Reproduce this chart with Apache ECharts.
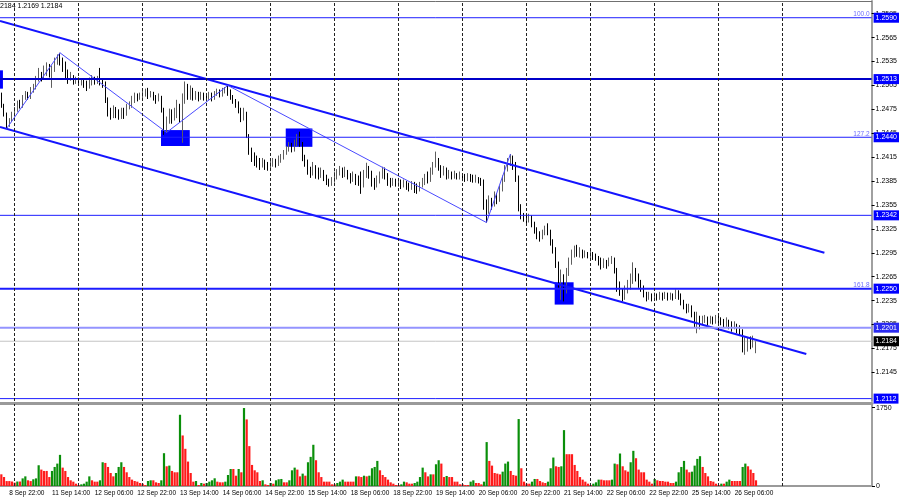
<!DOCTYPE html>
<html><head><meta charset="utf-8">
<script src="https://cdn.jsdelivr.net/npm/echarts@6/dist/echarts.min.js"></script>
<style>html,body{margin:0;padding:0;background:#fff}#c{width:900px;height:500px}</style>
</head><body><div id="c"></div>
<script>
// ---- data (GBPUSD H1, 8 Sep 19:00 .. 26 Sep 14:00) ----
const firstOpen = 1.2491;
const closes = [
1.2480,1.2468,1.2457,1.2463,1.2470,1.2475,1.2482,1.2480,1.2490,1.2493,1.2491,1.2500,1.2502,1.2512,1.2517,1.2515,1.2522,1.2527,1.2517,1.2525,
1.2534,1.2540,1.2535,1.2527,1.2520,1.2515,1.2517,1.2511,1.2512,1.2508,1.2510,1.2506,1.2503,1.2507,1.2513,1.2510,1.2512,1.2508,1.2507,1.2487,
1.2472,1.2468,1.2475,1.2471,1.2467,1.2472,1.2470,1.2477,1.2480,1.2487,1.2491,1.2488,1.2492,1.2493,1.2496,1.2492,1.2495,1.2490,1.2487,1.2490,
1.2475,1.2452,1.2462,1.2471,1.2462,1.2468,1.2477,1.2466,1.2487,1.2502,1.2493,1.2497,1.2491,1.2493,1.2490,1.2492,1.2491,1.2490,1.2492,1.2488,
1.2495,1.2497,1.2493,1.2498,1.2501,1.2497,1.2491,1.2486,1.2482,1.2475,1.2464,1.2471,1.2443,1.2424,1.2416,1.2412,1.2408,1.2404,1.2409,1.2405,
1.2402,1.2405,1.2409,1.2407,1.2412,1.2414,1.2421,1.2424,1.2429,1.2424,1.2433,1.2439,1.2432,1.2414,1.2408,1.2399,1.2395,1.2402,1.2397,1.2392,
1.2397,1.2390,1.2384,1.2382,1.2385,1.2389,1.2394,1.2399,1.2394,1.2398,1.2392,1.2387,1.2392,1.2388,1.2384,1.2380,1.2392,1.2402,1.2395,1.2387,
1.2379,1.2385,1.2392,1.2399,1.2393,1.2387,1.2382,1.2385,1.2383,1.2384,1.2380,1.2383,1.2379,1.2377,1.2380,1.2378,1.2374,1.2379,1.2384,1.2389,
1.2387,1.2397,1.2404,1.2409,1.2402,1.2397,1.2399,1.2392,1.2394,1.2392,1.2393,1.2390,1.2392,1.2390,1.2388,1.2392,1.2389,1.2387,1.2388,1.2385,
1.2383,1.2355,1.2347,1.2362,1.2355,1.2367,1.2362,1.2374,1.2387,1.2399,1.2408,1.2412,1.2405,1.2389,1.2355,1.2342,1.2339,1.2337,1.2339,1.2332,
1.2324,1.2318,1.2314,1.2319,1.2327,1.2322,1.2309,1.2299,1.2280,1.2261,1.2264,1.2249,1.2271,1.2284,1.2293,1.2299,1.2294,1.2296,1.2291,1.2294,
1.2291,1.2293,1.2290,1.2289,1.2284,1.2279,1.2283,1.2280,1.2285,1.2288,1.2274,1.2255,1.2246,1.2241,1.2249,1.2255,1.2261,1.2274,1.2266,1.2259,
1.2251,1.2244,1.2239,1.2241,1.2239,1.2241,1.2239,1.2241,1.2240,1.2242,1.2239,1.2241,1.2240,1.2245,1.2241,1.2234,1.2229,1.2224,1.2226,1.2219,
1.2209,1.2214,1.2209,1.2211,1.2214,1.2209,1.2212,1.2210,1.2212,1.2211,1.2209,1.2206,1.2209,1.2204,1.2201,1.2205,1.2199,1.2196,1.2174,1.2176,
1.2184,1.2181,1.2181,1.2184];
const highs = [
1.2496,1.2482,1.2471,1.2464,1.2472,1.2478,1.2486,1.2487,1.2493,1.2498,1.2497,1.2503,1.2507,1.2517,1.2527,1.2522,1.2530,1.2534,1.2532,1.2530,
1.2540,1.2544,1.2546,1.2540,1.2535,1.2525,1.2522,1.2518,1.2516,1.2515,1.2513,1.2512,1.2511,1.2515,1.2518,1.2516,1.2517,1.2527,1.2512,1.2510,
1.2490,1.2477,1.2480,1.2478,1.2475,1.2477,1.2477,1.2482,1.2485,1.2492,1.2496,1.2495,1.2496,1.2500,1.2501,1.2502,1.2498,1.2497,1.2493,1.2495,
1.2492,1.2477,1.2466,1.2476,1.2475,1.2477,1.2487,1.2482,1.2495,1.2510,1.2507,1.2505,1.2502,1.2498,1.2497,1.2497,1.2496,1.2495,1.2497,1.2496,
1.2498,1.2501,1.2500,1.2502,1.2503,1.2505,1.2500,1.2493,1.2488,1.2485,1.2477,1.2477,1.2472,1.2444,1.2427,1.2421,1.2417,1.2414,1.2414,1.2412,
1.2409,1.2412,1.2414,1.2413,1.2417,1.2419,1.2424,1.2429,1.2434,1.2433,1.2437,1.2444,1.2447,1.2434,1.2418,1.2412,1.2403,1.2409,1.2405,1.2402,
1.2402,1.2399,1.2393,1.2388,1.2390,1.2397,1.2400,1.2404,1.2402,1.2403,1.2399,1.2395,1.2397,1.2394,1.2392,1.2397,1.2399,1.2408,1.2404,1.2398,
1.2389,1.2392,1.2397,1.2403,1.2402,1.2395,1.2389,1.2389,1.2388,1.2389,1.2387,1.2387,1.2385,1.2383,1.2385,1.2384,1.2382,1.2384,1.2389,1.2394,
1.2397,1.2402,1.2409,1.2422,1.2414,1.2405,1.2404,1.2402,1.2399,1.2397,1.2398,1.2395,1.2397,1.2395,1.2394,1.2395,1.2394,1.2393,1.2393,1.2390,
1.2389,1.2387,1.2362,1.2367,1.2364,1.2372,1.2370,1.2379,1.2392,1.2405,1.2414,1.2419,1.2417,1.2409,1.2392,1.2356,1.2345,1.2344,1.2344,1.2342,
1.2334,1.2327,1.2322,1.2324,1.2329,1.2332,1.2324,1.2312,1.2302,1.2284,1.2274,1.2268,1.2276,1.2289,1.2299,1.2304,1.2305,1.2302,1.2299,1.2298,
1.2296,1.2298,1.2296,1.2294,1.2291,1.2289,1.2288,1.2286,1.2289,1.2291,1.2289,1.2276,1.2259,1.2250,1.2254,1.2261,1.2269,1.2283,1.2276,1.2269,
1.2261,1.2254,1.2246,1.2246,1.2244,1.2245,1.2244,1.2246,1.2245,1.2246,1.2245,1.2245,1.2244,1.2249,1.2248,1.2244,1.2236,1.2231,1.2231,1.2229,
1.2221,1.2221,1.2216,1.2216,1.2217,1.2215,1.2216,1.2215,1.2217,1.2216,1.2214,1.2212,1.2214,1.2211,1.2209,1.2209,1.2206,1.2204,1.2199,1.2189,
1.2189,1.2190,1.2191,1.2184];
const lows = [
1.2477,1.2466,1.2451,1.2453,1.2459,1.2466,1.2472,1.2476,1.2477,1.2487,1.2487,1.2488,1.2496,1.2500,1.2510,1.2510,1.2512,1.2517,1.2515,1.2502,
1.2522,1.2531,1.2530,1.2522,1.2513,1.2507,1.2511,1.2506,1.2507,1.2505,1.2505,1.2502,1.2498,1.2501,1.2505,1.2506,1.2507,1.2505,1.2502,1.2483,
1.2466,1.2462,1.2464,1.2464,1.2462,1.2463,1.2463,1.2467,1.2475,1.2477,1.2483,1.2485,1.2487,1.2488,1.2491,1.2488,1.2490,1.2486,1.2482,1.2485,
1.2471,1.2443,1.2446,1.2457,1.2457,1.2461,1.2464,1.2459,1.2433,1.2482,1.2487,1.2487,1.2486,1.2487,1.2485,1.2487,1.2486,1.2485,1.2487,1.2485,
1.2487,1.2492,1.2490,1.2491,1.2495,1.2492,1.2487,1.2482,1.2477,1.2470,1.2459,1.2461,1.2439,1.2418,1.2409,1.2404,1.2402,1.2399,1.2402,1.2399,
1.2398,1.2400,1.2403,1.2402,1.2404,1.2408,1.2412,1.2418,1.2422,1.2421,1.2422,1.2429,1.2428,1.2410,1.2403,1.2393,1.2389,1.2392,1.2388,1.2387,
1.2389,1.2385,1.2380,1.2378,1.2379,1.2383,1.2387,1.2392,1.2389,1.2390,1.2387,1.2382,1.2384,1.2380,1.2379,1.2369,1.2377,1.2389,1.2388,1.2378,
1.2374,1.2377,1.2382,1.2388,1.2387,1.2379,1.2377,1.2379,1.2378,1.2378,1.2375,1.2377,1.2374,1.2372,1.2374,1.2370,1.2369,1.2372,1.2377,1.2380,
1.2382,1.2384,1.2393,1.2402,1.2398,1.2389,1.2392,1.2387,1.2388,1.2387,1.2388,1.2387,1.2387,1.2385,1.2384,1.2385,1.2384,1.2383,1.2383,1.2382,
1.2379,1.2349,1.2333,1.2344,1.2349,1.2353,1.2356,1.2359,1.2372,1.2384,1.2397,1.2404,1.2399,1.2384,1.2347,1.2337,1.2334,1.2332,1.2333,1.2327,
1.2319,1.2312,1.2309,1.2312,1.2317,1.2317,1.2304,1.2294,1.2276,1.2251,1.2236,1.2234,1.2244,1.2266,1.2280,1.2289,1.2290,1.2289,1.2288,1.2289,
1.2288,1.2288,1.2286,1.2285,1.2279,1.2274,1.2276,1.2275,1.2278,1.2281,1.2269,1.2246,1.2241,1.2234,1.2236,1.2244,1.2249,1.2256,1.2259,1.2251,
1.2246,1.2239,1.2234,1.2236,1.2234,1.2236,1.2235,1.2236,1.2235,1.2237,1.2235,1.2236,1.2235,1.2237,1.2236,1.2229,1.2224,1.2219,1.2220,1.2214,
1.2201,1.2194,1.2199,1.2205,1.2207,1.2204,1.2206,1.2205,1.2206,1.2206,1.2204,1.2201,1.2202,1.2199,1.2196,1.2199,1.2194,1.2191,1.2170,1.2167,
1.2171,1.2174,1.2176,1.2169];
const volumes = [
261,200,110,110,100,75,100,100,170,215,127,110,150,170,463,366,336,336,200,336,
425,500,695,410,336,200,127,97,52,22,37,52,97,215,127,97,97,127,530,515,
425,290,215,290,425,530,425,306,200,142,112,97,67,52,22,112,127,127,82,67,
127,732,440,455,336,306,306,1590,1128,830,545,290,97,112,22,67,52,67,97,127,
172,97,82,82,97,246,380,380,230,380,306,1740,1486,890,470,350,306,112,127,37,
22,67,52,127,150,157,82,82,127,350,410,366,215,276,230,530,650,920,575,306,
200,97,97,97,37,37,67,97,142,97,97,97,97,215,215,200,230,215,230,396,
425,560,350,246,200,142,82,52,22,22,37,97,82,52,52,67,97,200,410,306,
215,260,260,485,575,500,200,224,200,200,97,97,37,37,22,22,97,127,67,67,
37,97,980,560,455,290,276,260,320,500,545,336,246,230,1494,396,97,52,52,97,
157,157,112,82,67,97,396,635,440,425,440,1247,710,710,710,470,336,200,142,97,
52,22,52,82,142,142,127,127,127,142,500,485,725,440,350,320,530,785,620,366,
306,306,142,97,52,157,127,112,112,97,97,67,67,97,306,425,560,366,306,320,
455,605,665,425,290,215,112,97,52,22,52,52,97,142,112,112,112,112,425,500,
440,366,290,127];
const priceTicks = [1.2595,1.2565,1.2535,1.2505,1.2475,1.2445,1.2415,1.2385,1.2355,1.2325,1.2295,1.2265,1.2235,1.2205,1.2175,1.2145];
const volumeTicks = [0, 1750];
const timeLabels = ['8 Sep 22:00','11 Sep 14:00','12 Sep 06:00','12 Sep 22:00','13 Sep 14:00','14 Sep 06:00','14 Sep 22:00','15 Sep 14:00','18 Sep 06:00','18 Sep 22:00','19 Sep 14:00','20 Sep 06:00','20 Sep 22:00','21 Sep 14:00','22 Sep 06:00','22 Sep 22:00','25 Sep 14:00','26 Sep 06:00'];
const timeLabelBars = [3,19,35,51,67,83,99,115,131,147,163,179,195,211,227,243,259,275];
const dayStartBars = [5,29,53,77,101,125,149,173,197,221,245,269,293];
const levels = [1.2590, 1.2513, 1.2440, 1.2342, 1.2250, 1.2201, 1.2112];
const fibLevels = [1.2590, 1.2440, 1.2250];
const fibTexts = ['100.0', '127.2', '161.8'];
const bidPrice = 1.2184;
const zigzag = [[2,1.2451],[22,1.2546],[62,1.2446],[85,1.2505],[182,1.2333],[191,1.2419]];
const upperChannel = [[-0.5,1.2586],[308.8,1.2295]];
const lowerChannel = [[-0.5,1.2453],[302,1.2168]];
const boxes = [[-0.5,0.6,1.2501,1.2524],[59.9,70.7,1.2429,1.2449],[106.7,116.7,1.2428,1.2451],[207.6,214.7,1.2230,1.2258]];
const headerText = '2184 1.2169 1.2184';
const slotCount = 327;

// ---- build ----
const opens = [firstOpen].concat(closes.slice(0, -1));
const candles = closes.map((c, i) => [i, opens[i], c, lows[i], highs[i]]);
const volData = volumes.map((v, i) => [i, v]);
const FONT = 'Liberation Sans';
const X0 = -0.5, X1 = slotCount - 0.5;

const levelStyle = [
  {color:'#1e1eff', width:1, tag:'#0000ff'},
  {color:'#0000c8', width:2, tag:'#0000ff'},
  {color:'#1e1eff', width:1, tag:'#0000ff'},
  {color:'#1e1eff', width:1, tag:'#0000ff'},
  {color:'#1c1cff', width:2, tag:'#0000ff'},
  {color:'#9494ff', width:2, tag:'#2a2af0'},
  {color:'#1e1eff', width:1, tag:'#0000ff'}
];
const tagLabel = (txt, bg) => ({show:true, position:'end', formatter:txt, backgroundColor:bg, color:'#fff',
  fontSize:7, fontFamily:FONT, padding:[2,2,1,2], distance:2});
const hidden = {color:'rgba(0,0,0,0)', width:1, type:'solid'};

// horizontal level lines as plain line series
const levelSeries = levels.map((v, k) => ({
  type:'line', xAxisIndex:0, yAxisIndex:0, data:[[X0, v], [X1, v]], symbol:'none', silent:true, z:4,
  lineStyle:{color:levelStyle[k].color, width:levelStyle[k].width}
}));
levelSeries.push({type:'line', xAxisIndex:0, yAxisIndex:0, data:[[X0, bidPrice], [X1, bidPrice]], symbol:'none', silent:true, z:2,
  lineStyle:{color:'#c4c4c4', width:1}});

// price tags and fib texts (labels only)
const tagMarks = levels.map((v, k) => ({yAxis:v, lineStyle:hidden, label:tagLabel(v.toFixed(4), levelStyle[k].tag)}));
tagMarks.push({yAxis:bidPrice, lineStyle:hidden, label:tagLabel(bidPrice.toFixed(4), '#000')});
fibLevels.forEach((v, k) => tagMarks.push({
  yAxis:v, lineStyle:hidden,
  label:{show:true, position:'insideEndTop', formatter:fibTexts[k], color:'#6b6bff', fontSize:6.5, fontFamily:FONT, distance:[2,0]}
}));

const gridMark = () => ({
  silent:true, symbol:['none','none'], label:{show:false}, precision:4,
  lineStyle:{color:'#222', width:1, type:[3,2]},
  data: dayStartBars.map(b => ({xAxis:b}))
});

const chart = echarts.init(document.getElementById('c'), null, {renderer:'canvas'});
chart.setOption({
  animation:false,
  backgroundColor:'#fff',
  textStyle:{fontFamily:FONT},
  graphic:[{type:'text', left:0, top:3, style:{text:headerText, fontSize:7, fill:'#000', fontFamily:FONT}}],
  grid:[
    {left:0, right:28, top:1, height:400},
    {left:0, right:28, top:404, height:82}
  ],
  xAxis:[
    {type:'value', gridIndex:0, min:X0, max:X1, position:'top',
     axisLine:{show:true, onZero:false, lineStyle:{color:'#707070', width:1}}, axisTick:{show:false}, axisLabel:{show:false}, splitLine:{show:false}},
    {type:'value', gridIndex:1, min:X0, max:X1, position:'bottom',
     axisLine:{show:true, onZero:false, lineStyle:{color:'#9a9a9a', width:2}}, axisTick:{show:false},
     axisLabel:{customValues:timeLabelBars, align:'left', fontSize:6.5, color:'#000', margin:4, fontFamily:FONT,
       formatter:v => { const k = timeLabelBars.indexOf(Math.round(v)); return k >= 0 ? timeLabels[k] : ''; }},
     splitLine:{show:false}},
    {type:'value', gridIndex:1, min:X0, max:X1, position:'top', offset:1,
     axisLine:{show:true, onZero:false, lineStyle:{color:'#9a9a9a', width:3}}, axisTick:{show:false}, axisLabel:{show:false}, splitLine:{show:false}}
  ],
  yAxis:[
    {type:'value', gridIndex:0, position:'right', min:1.2109, max:1.2611,
     axisLine:{show:true, onZero:false, lineStyle:{color:'#a0a0a0', width:2}},
     axisTick:{show:true, customValues:priceTicks, length:3, lineStyle:{color:'#000'}},
     axisLabel:{customValues:priceTicks, formatter:v => Number(v).toFixed(4), fontSize:7, color:'#000', margin:4, fontFamily:FONT},
     splitLine:{show:false}},
    {type:'value', gridIndex:1, position:'right', min:0, max:1830,
     axisLine:{show:true, onZero:false, lineStyle:{color:'#a0a0a0', width:2}},
     axisTick:{show:true, customValues:volumeTicks, length:3, lineStyle:{color:'#000'}},
     axisLabel:{customValues:volumeTicks, formatter:v => String(Math.round(v)), fontSize:7, color:'#000', margin:4, fontFamily:FONT},
     splitLine:{show:false}}
  ],
  series:[
    {type:'line', name:'boxes', xAxisIndex:0, yAxisIndex:0, data:[], z:1, silent:true,
     markLine: gridMark(),
     markArea:{silent:true, itemStyle:{color:'#0000ff', opacity:1},
       data: boxes.map(b => [{coord:[b[0], b[3]]}, {coord:[b[1], b[2]]}])}},
    {type:'candlestick', name:'price', xAxisIndex:0, yAxisIndex:0, data:candles,
     encode:{x:0, y:[1,2,3,4]}, barWidth:1, z:3,
     itemStyle:{color:'#b0b0b0', color0:'#000', borderColor:'#5e5e5e', borderColor0:'#000', borderWidth:1}},
    {type:'line', name:'upper', xAxisIndex:0, yAxisIndex:0, data:upperChannel, symbol:'none', z:4, silent:true,
     lineStyle:{color:'#1414ff', width:2}},
    {type:'line', name:'lower', xAxisIndex:0, yAxisIndex:0, data:lowerChannel, symbol:'none', z:4, silent:true,
     lineStyle:{color:'#1414ff', width:2}},
    {type:'line', name:'zigzag', xAxisIndex:0, yAxisIndex:0, data:zigzag, symbol:'none', z:4, silent:true,
     lineStyle:{color:'#4a4aff', width:1},
     markLine:{silent:true, symbol:['none','none'], precision:4, data:tagMarks}},
    ...levelSeries,
    {type:'line', name:'vgrid', xAxisIndex:1, yAxisIndex:1, data:[], z:1, silent:true, markLine: gridMark()},
    {type:'bar', name:'volume', xAxisIndex:1, yAxisIndex:1, data:volData, barWidth:2.2, z:3,
     itemStyle:{color: p => (p.dataIndex > 0 && volumes[p.dataIndex] > volumes[p.dataIndex-1]) ? '#0a8f0a' : '#ff1a1a'}}
  ]
});
</script>
</body></html>
